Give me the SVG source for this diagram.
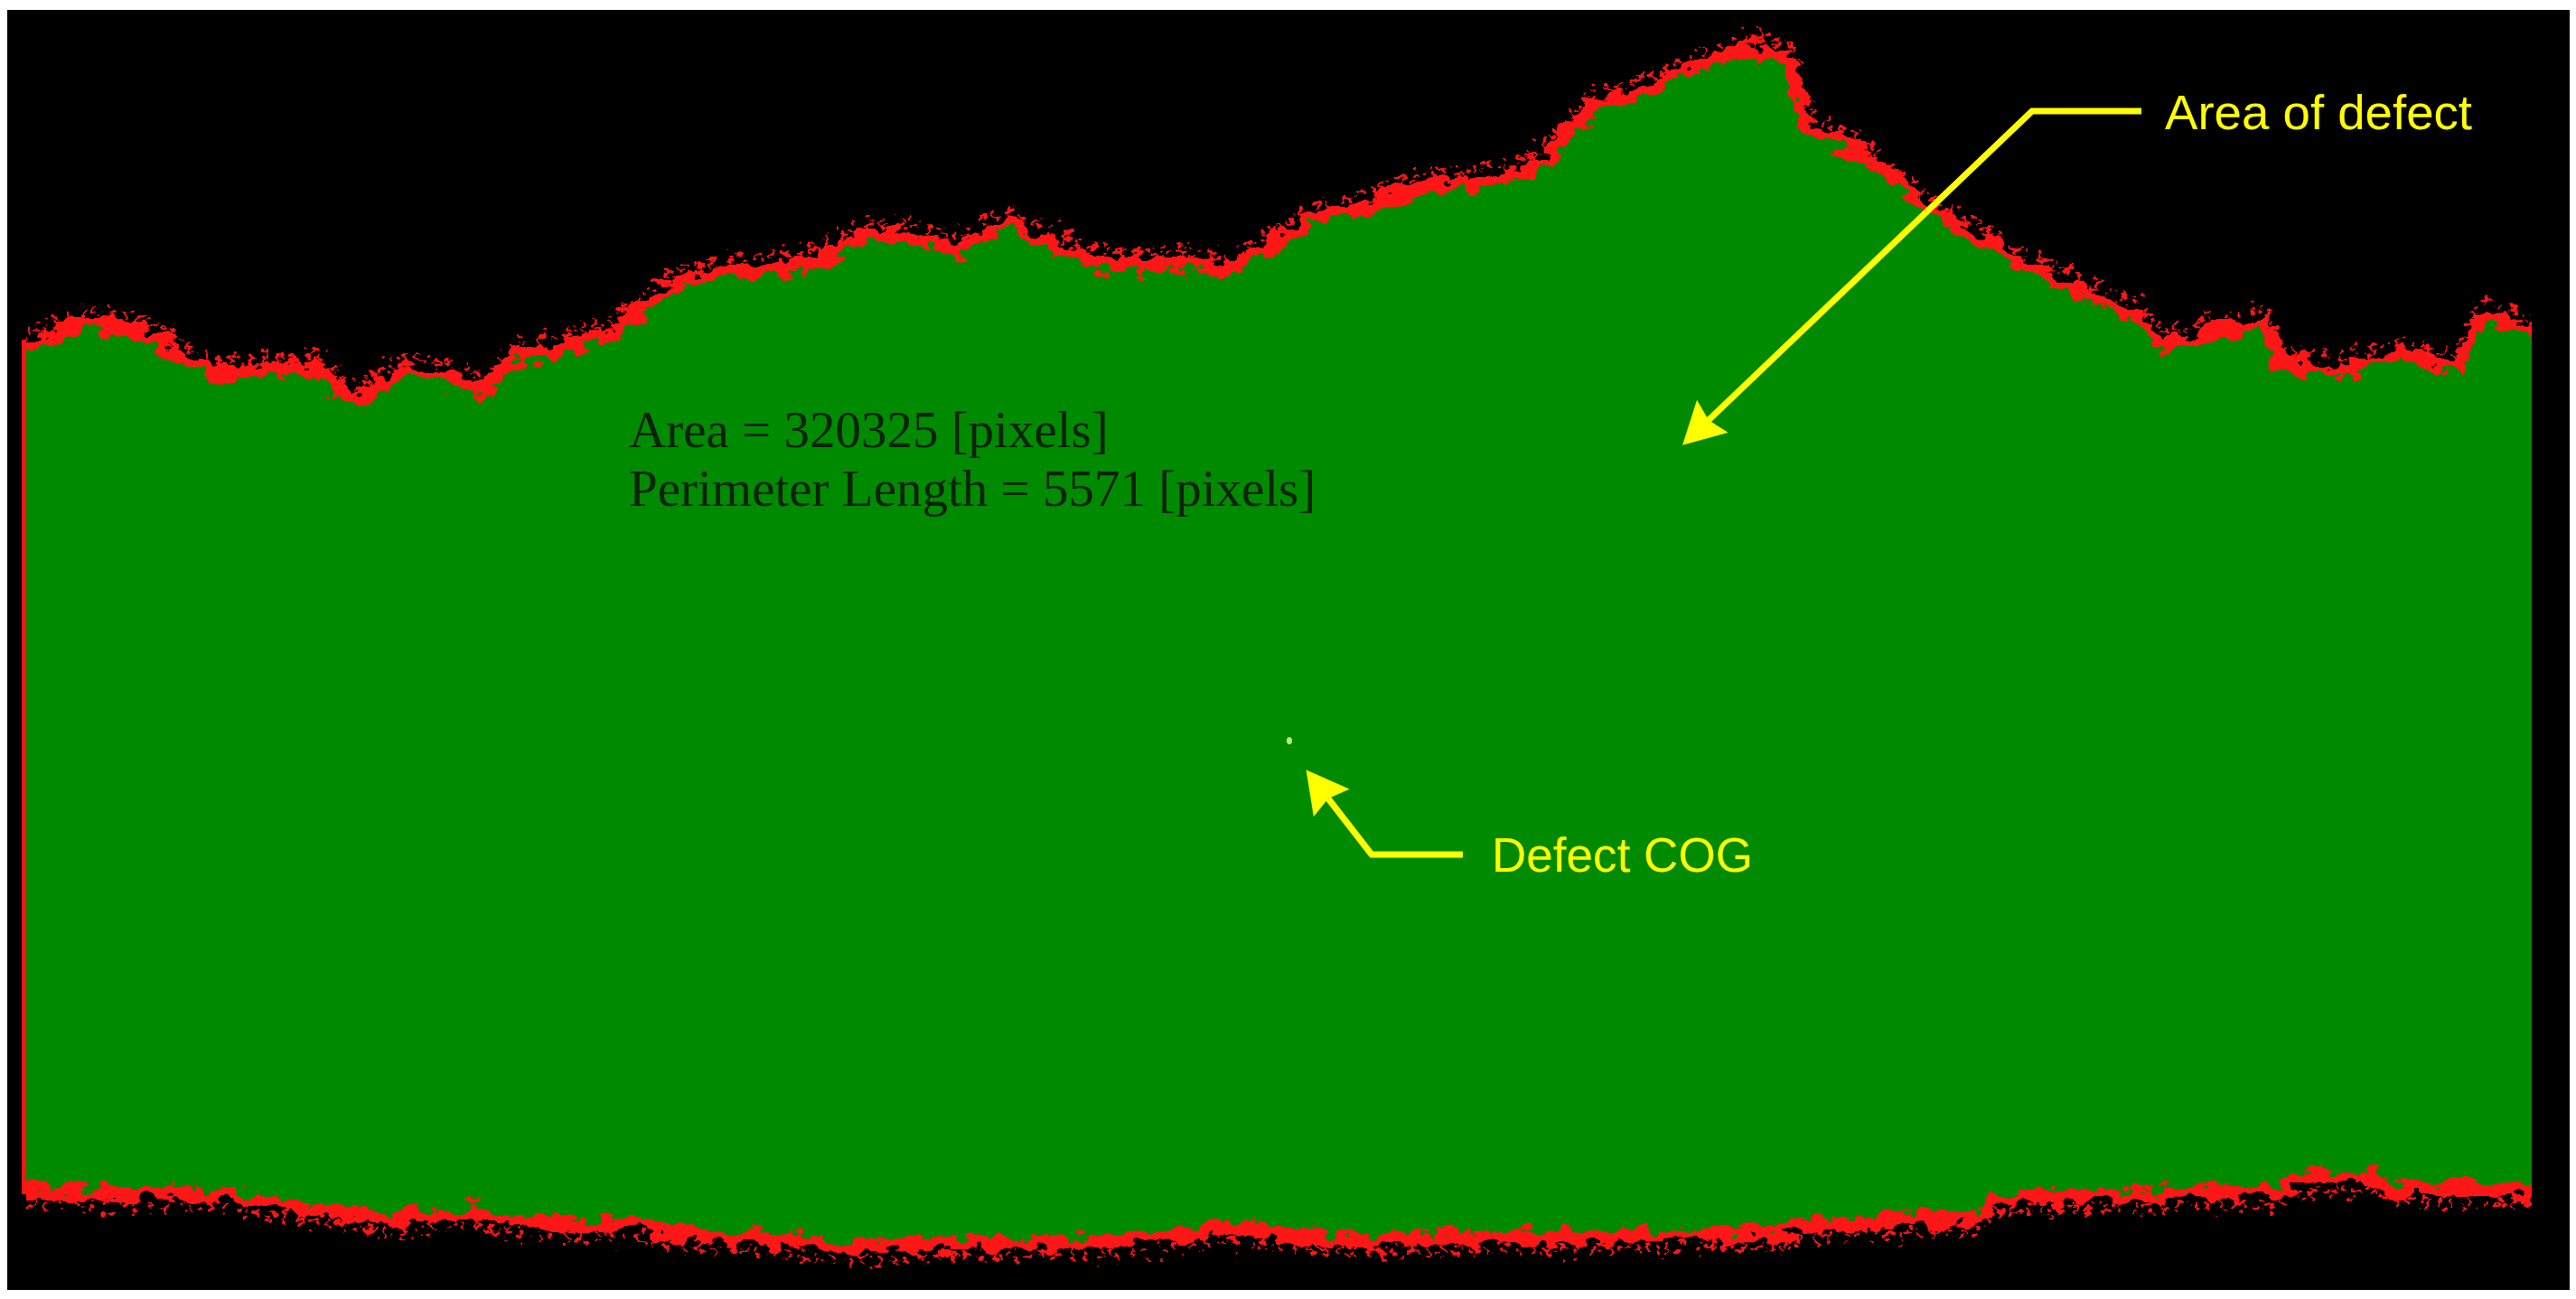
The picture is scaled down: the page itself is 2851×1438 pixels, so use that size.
<svg xmlns="http://www.w3.org/2000/svg" width="2851" height="1438" viewBox="0 0 2851 1438">
  <style>
    .metric { font-family: "Liberation Serif", "Times New Roman", serif; font-size: 57px; fill: #0b2208; }
    .label { font-family: "Liberation Sans", Arial, sans-serif; font-size: 54px; fill: #ffff00; }
    .leader { fill: none; stroke: #ffff00; stroke-width: 7; stroke-linejoin: miter; marker-end: url(#arrow); }
  </style>
  <defs>
    <marker id="arrow" markerUnits="userSpaceOnUse" viewBox="0 0 46 50" markerWidth="46" markerHeight="50" refX="6" refY="25" orient="auto">
      <path d="M0,0 L46,25 L0,50 L6,25 Z" fill="#ffff00"/>
    </marker>
    <filter id="rough" x="-5%" y="-20%" width="110%" height="140%">
      <feTurbulence type="fractalNoise" baseFrequency="0.045 0.06" numOctaves="3" seed="3" result="n"/>
      <feDisplacementMap in="SourceGraphic" in2="n" scale="34" xChannelSelector="R" yChannelSelector="G"/>
    </filter>
    <filter id="speck" x="-5%" y="-20%" width="110%" height="140%">
      <feTurbulence type="fractalNoise" baseFrequency="0.09 0.12" numOctaves="2" seed="11" result="n"/>
      <feDisplacementMap in="SourceGraphic" in2="n" scale="30" xChannelSelector="R" yChannelSelector="G"/>
    </filter>
    <clipPath id="frameClip">
      <rect x="29" y="0" width="2773" height="1438"/>
    </clipPath>
  </defs>

  <rect id="page" x="0" y="0" width="2851" height="1438" fill="#ffffff"/>
  <rect id="background" x="8" y="11" width="2836" height="1417" fill="#000000"/>

  <g id="defect-region" clip-path="url(#frameClip)">
    <g filter="url(#speck)" fill="none" stroke="#ff1414" stroke-width="9" stroke-dasharray="6 10 4 13">
      <polyline points="27,370 60,356 96,344 130,348 160,353 200,381 242,399 300,396 351,393 375,416 395,429 420,411 446,396 490,401 536,416 555,396 574,379 620,371 670,359 701,336 740,303 797,286 850,283 893,279 930,261 957,248 1000,248 1060,261 1115,233 1150,248 1191,269 1230,279 1319,279 1357,286 1408,259 1459,226 1510,214 1574,193 1638,186 1689,176 1721,151 1765,101 1804,94 1861,66 1912,49 1944,38 1976,51 2000,126 2056,153 2108,193 2134,219 2185,246 2236,276 2301,306 2365,336 2397,369 2442,356 2506,341 2519,386 2590,396 2654,379 2718,393 2750,334 2802,351"/>
      <polyline points="2802,1331 2646,1331 2628,1317 2544,1321 2516,1334 2330,1337 2209,1341 2191,1361 2005,1371 1958,1381 1679,1384 1493,1387 1359,1374 1244,1387 1053,1391 928,1394 861,1387 766,1381 718,1371 574,1367 526,1357 431,1364 239,1336 27,1334"/>
    </g>
    <g filter="url(#rough)">
      <polygon fill="#008a00" stroke="#ff1414" stroke-width="14" stroke-linejoin="miter" points="0,383 27,383 60,370 96,358 130,362 160,367 200,395 242,413 300,410 351,407 375,430 395,443 420,425 446,410 490,415 536,430 555,410 574,393 620,385 670,373 701,350 740,317 797,300 850,297 893,293 930,275 957,262 1000,262 1060,275 1115,247 1150,262 1191,283 1230,293 1319,293 1357,300 1408,273 1459,240 1510,228 1574,207 1638,200 1689,190 1721,165 1765,115 1804,108 1861,80 1912,63 1944,52 1976,65 2000,140 2056,167 2108,207 2134,233 2185,260 2236,290 2301,320 2365,350 2397,383 2442,370 2506,355 2519,400 2590,410 2654,393 2718,407 2750,348 2802,365 2830,365 2830,1317 2802,1317 2646,1317 2628,1303 2544,1307 2516,1320 2330,1323 2209,1327 2191,1347 2005,1357 1958,1367 1679,1370 1493,1373 1359,1360 1244,1373 1053,1377 928,1380 861,1373 766,1367 718,1357 574,1353 526,1343 431,1350 239,1322 27,1320 0,1320"/>
    </g>
  </g>
  <rect id="left-edge" x="24" y="376" width="5" height="946" fill="#ff1414"/>

  <g id="metrics">
    <text class="metric" x="696" y="495">Area = 320325 [pixels]</text>
    <text class="metric" x="696" y="560">Perimeter Length = 5571 [pixels]</text>
  </g>

  <g id="cog">
    <ellipse cx="1427" cy="820" rx="3" ry="4" fill="#b8f070"/>
  </g>

  <g id="connectors">
    <polyline class="leader" points="2370,123 2249,123 1891,465"/>
    <polyline class="leader" points="1619,946 1518,946 1470,884"/>
  </g>

  <g id="label-area">
    <text class="label" x="2396" y="143" textLength="340" lengthAdjust="spacingAndGlyphs">Area of defect</text>
  </g>
  <g id="label-cog">
    <text class="label" x="1651" y="965" textLength="289" lengthAdjust="spacingAndGlyphs">Defect COG</text>
  </g>
</svg>
